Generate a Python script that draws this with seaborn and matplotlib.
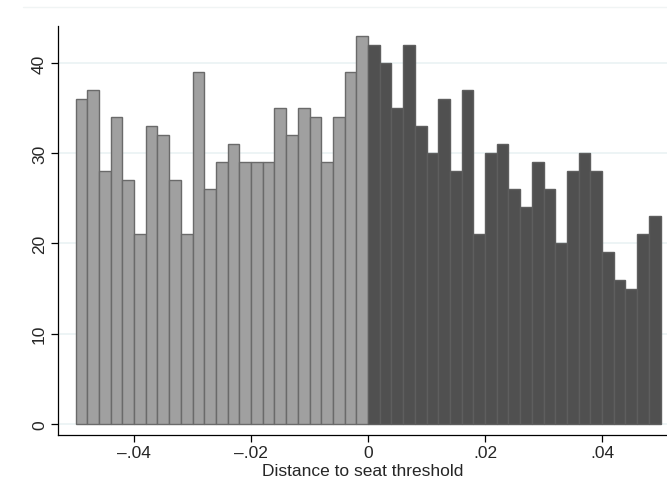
import numpy as np
import pandas as pd
import matplotlib
matplotlib.use("Agg")
import matplotlib.pyplot as plt
from matplotlib.lines import Line2D
import seaborn as sns

# Counts per bin (bin width 0.002) on each side of the threshold
counts_below = [36, 37, 28, 34, 27, 21, 33, 32, 27, 21, 39, 26, 29,
                31, 29, 29, 29, 35, 32, 35, 34, 29, 34, 39, 43]
counts_above = [42, 40, 35, 42, 33, 30, 36, 28, 37, 21, 30, 31, 26,
                24, 29, 26, 20, 28, 30, 28, 19, 16, 15, 21, 23]
bin_width = 0.002
x_ticks = [-0.04, -0.02, 0, 0.02, 0.04]
x_tick_labels = ["\u2013.04", "\u2013.02", "0", ".02", ".04"]
y_ticks = [0, 10, 20, 30, 40]

edges_below = -0.05 + bin_width * np.arange(len(counts_below) + 1)
edges_above = 0.0 + bin_width * np.arange(len(counts_above) + 1)
df_below = pd.DataFrame({"x": (edges_below[:-1] + edges_below[1:]) / 2, "n": counts_below})
df_above = pd.DataFrame({"x": (edges_above[:-1] + edges_above[1:]) / 2, "n": counts_above})

sns.set_style("white")
plt.rcParams["font.family"] = ["Liberation Sans", "DejaVu Sans"]

fig = plt.figure(figsize=(6.67, 4.85), dpi=100)
ax = fig.add_axes([0.087, 0.101, 0.913, 0.843])

for y in y_ticks:
    ax.axhline(y, color="#eaf2f3", lw=1.2, zorder=0)

sns.histplot(data=df_below, x="x", weights="n", bins=list(edges_below), ax=ax,
             color="#a0a0a0", edgecolor="#6a6a6a", linewidth=1.0, alpha=1, zorder=2)
sns.histplot(data=df_above, x="x", weights="n", bins=list(edges_above), ax=ax,
             color="#505050", edgecolor="#5e5e5e", linewidth=1.0, alpha=1, zorder=2)

ax.set_xlim(-0.053, 0.0511)
ax.set_ylim(-1.22, 44.07)
ax.set_xticks(x_ticks)
ax.set_xticklabels(x_tick_labels)
ax.set_yticks(y_ticks)
ax.set_yticklabels([str(v) for v in y_ticks], rotation=90, va="center")
ax.set_xlabel("Distance to seat threshold", fontsize=12.5, labelpad=2)
ax.set_ylabel("")
ax.tick_params(axis="both", labelsize=12.5, length=5, width=0.9, color="#000000",
               direction="out", bottom=True, left=True, pad=3)
ax.tick_params(axis="x", pad=2)
for s in ["top", "right"]:
    ax.spines[s].set_visible(False)
for s in ["left", "bottom"]:
    ax.spines[s].set_color("#000000")
    ax.spines[s].set_linewidth(0.9)

# faint outer frame line at the top of the graph region
fig.add_artist(Line2D([0.035, 1.0], [0.983, 0.983], transform=fig.transFigure,
                      color="#f0f4f4", lw=1.0))

fig.savefig("out.png", dpi=100)
